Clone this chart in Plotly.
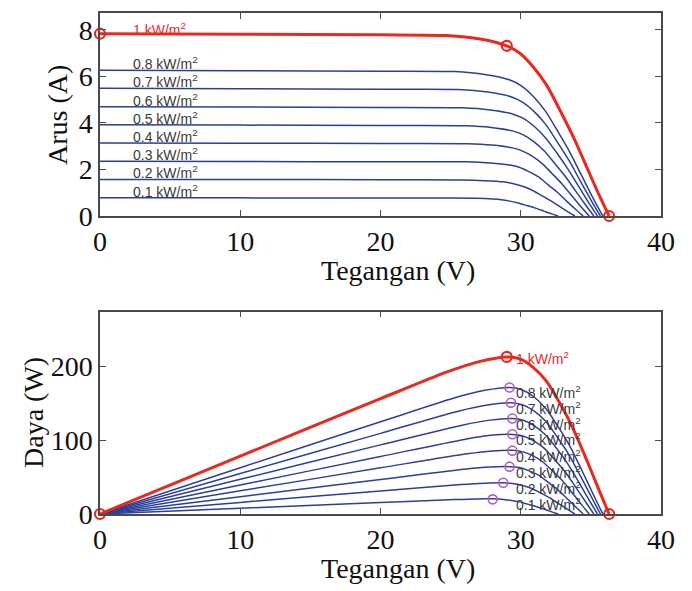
import plotly.graph_objects as go

# ---------------- data ----------------
irradiance_labels = ["0.8", "0.7", "0.6", "0.5", "0.4", "0.3", "0.2", "0.1"]

v_red = [0, 10, 20, 24.7, 27.1, 29.0, 29.94, 30.88, 31.84, 32.79, 33.74, 34.69, 35.64, 36.3]
i_red = [7.84, 7.82, 7.79, 7.76, 7.61, 7.32, 7.0, 6.42, 5.63, 4.56, 3.41, 2.12, 0.83, 0]
red_marker_idx = [0, 5, 13]

v_08 = [0, 10, 20, 25.25, 27.44, 29.18, 30.04, 30.90, 31.77, 32.64, 33.51, 34.38, 35.25, 35.85]
i_08 = [6.27, 6.25, 6.23, 6.21, 6.09, 5.86, 5.60, 5.14, 4.50, 3.64, 2.73, 1.69, 0.66, 0]
v_07 = [0, 10, 20, 25.54, 27.63, 29.30, 30.12, 30.94, 31.78, 32.61, 33.44, 34.27, 35.11, 35.68]
i_07 = [5.49, 5.47, 5.45, 5.44, 5.33, 5.13, 4.90, 4.50, 3.94, 3.18, 2.39, 1.48, 0.58, 0]
v_06 = [0, 10, 20, 25.82, 27.82, 29.40, 30.18, 30.97, 31.76, 32.55, 33.34, 34.13, 34.92, 35.47]
i_06 = [4.70, 4.69, 4.67, 4.65, 4.56, 4.39, 4.20, 3.85, 3.37, 2.73, 2.04, 1.27, 0.50, 0]
v_05 = [0, 10, 20, 25.98, 27.89, 29.40, 30.15, 30.90, 31.66, 32.41, 33.17, 33.93, 34.69, 35.21]
i_05 = [3.92, 3.91, 3.89, 3.88, 3.81, 3.66, 3.50, 3.21, 2.81, 2.27, 1.71, 1.06, 0.42, 0]
v_04 = [0, 10, 20, 26.17, 27.97, 29.40, 30.10, 30.81, 31.53, 32.24, 32.96, 33.67, 34.39, 34.88]
i_04 = [3.14, 3.13, 3.12, 3.11, 3.05, 2.93, 2.80, 2.57, 2.25, 1.82, 1.37, 0.85, 0.33, 0]
v_03 = [0, 10, 20, 26.11, 27.83, 29.20, 29.88, 30.55, 31.24, 31.92, 32.61, 33.29, 33.98, 34.45]
i_03 = [2.35, 2.34, 2.33, 2.33, 2.28, 2.19, 2.10, 1.92, 1.69, 1.36, 1.02, 0.63, 0.25, 0]
v_02 = [0, 10, 20, 25.74, 27.42, 28.75, 29.41, 30.07, 30.74, 31.40, 32.07, 32.73, 33.40, 33.86]
i_02 = [1.57, 1.57, 1.56, 1.55, 1.52, 1.47, 1.40, 1.29, 1.13, 0.91, 0.68, 0.42, 0.17, 0]
v_01 = [0, 10, 20, 25.26, 26.79, 28.01, 28.61, 29.22, 29.82, 30.43, 31.04, 31.65, 32.26, 32.68]
i_01 = [0.78, 0.78, 0.77, 0.77, 0.76, 0.73, 0.70, 0.64, 0.56, 0.45, 0.34, 0.21, 0.08, 0]

mpp_v_blue = [29.2, 29.3, 29.4, 29.4, 29.4, 29.2, 28.75, 28.0]
mpp_p_blue = [171, 150.4, 129, 107.7, 85.6, 64, 42.3, 19.8]

x_ticks = [0, 10, 20, 30, 40]
y1_ticks = [0, 2, 4, 6, 8]
y2_ticks = [0, 100, 200]

blue_v = [v_08, v_07, v_06, v_05, v_04, v_03, v_02, v_01]
blue_i = [i_08, i_07, i_06, i_05, i_04, i_03, i_02, i_01]

# ---------------- style ----------------
RED = "#e8291f"
BLUE = "#2c3f98"
PURPLE = "#b25cc4"
LABEL_GREY = "#3a3a3a"
AX = "#4a4a4a"
W, H = 692, 591
SM = 0.7

fig = go.Figure()

for vs, cs in zip(blue_v, blue_i):
    fig.add_trace(go.Scatter(x=vs, y=cs, mode="lines", line=dict(color=BLUE, width=1.5, shape="spline", smoothing=SM),
                             xaxis="x", yaxis="y", showlegend=False, hoverinfo="skip"))
    ps = [v * c for v, c in zip(vs, cs)]
    fig.add_trace(go.Scatter(x=vs, y=ps, mode="lines", line=dict(color=BLUE, width=1.5, shape="spline", smoothing=SM),
                             xaxis="x2", yaxis="y2", showlegend=False, hoverinfo="skip"))

p_red = [v * c for v, c in zip(v_red, i_red)]
fig.add_trace(go.Scatter(x=v_red, y=i_red, mode="lines", line=dict(color=RED, width=3, shape="spline", smoothing=SM),
                         xaxis="x", yaxis="y", showlegend=False))
fig.add_trace(go.Scatter(x=v_red, y=p_red, mode="lines", line=dict(color=RED, width=3, shape="spline", smoothing=SM),
                         xaxis="x2", yaxis="y2", showlegend=False))

marker_red = dict(symbol="circle-open", size=10, color=RED, line=dict(width=2.2, color=RED))
fig.add_trace(go.Scatter(x=[v_red[k] for k in red_marker_idx], y=[i_red[k] for k in red_marker_idx],
                         mode="markers", marker=marker_red, xaxis="x", yaxis="y", showlegend=False, cliponaxis=False))
fig.add_trace(go.Scatter(x=[v_red[k] for k in red_marker_idx], y=[p_red[k] for k in red_marker_idx],
                         mode="markers", marker=marker_red, xaxis="x2", yaxis="y2", showlegend=False, cliponaxis=False))
fig.add_trace(go.Scatter(x=mpp_v_blue, y=mpp_p_blue, mode="markers",
                         marker=dict(symbol="circle-open", size=9, color=PURPLE, line=dict(width=1.6, color=PURPLE)),
                         xaxis="x2", yaxis="y2", showlegend=False))

# ---------------- labels ----------------
ann = []
lab_font = dict(family="Liberation Sans, Arial", size=14, color=LABEL_GREY)
red_font = dict(family="Liberation Sans, Arial", size=14, color=RED)
ann.append(dict(x=2.2, y=i_red[0], xref="x", yref="y", text="1 kW/m<sup>2</sup>", showarrow=False,
                xanchor="left", yanchor="bottom", yshift=-6, font=red_font))
for lab, cs in zip(irradiance_labels, blue_i):
    ann.append(dict(x=2.2, y=cs[0], xref="x", yref="y", text=lab + " kW/m<sup>2</sup>", showarrow=False,
                    xanchor="left", yanchor="bottom", yshift=-4, font=lab_font))
ann.append(dict(x=29.5, y=p_red[5], xref="x2", yref="y2", text="1 kW/m<sup>2</sup>", showarrow=False,
                xanchor="left", yanchor="middle", yshift=-1, font=red_font))
for lab, p in zip(irradiance_labels, mpp_p_blue):
    ann.append(dict(x=29.5, y=p, xref="x2", yref="y2", text=lab + " kW/m<sup>2</sup>", showarrow=False,
                    xanchor="left", yanchor="middle", yshift=-5, font=lab_font))

title_font = dict(family="Liberation Serif, Times New Roman", size=28, color="#111")
ann.append(dict(x=57 / W, y=1 - 115 / H, xref="paper", yref="paper", text="Arus (A)", textangle=-90,
                showarrow=False, xanchor="center", yanchor="middle", font=title_font))
ann.append(dict(x=398 / W, y=1 - 270 / H, xref="paper", yref="paper", text="Tegangan (V)",
                showarrow=False, xanchor="center", yanchor="middle", font=title_font))
ann.append(dict(x=33 / W, y=1 - 413 / H, xref="paper", yref="paper", text="Daya (W)", textangle=-90,
                showarrow=False, xanchor="center", yanchor="middle", font=title_font))
ann.append(dict(x=398 / W, y=1 - 568 / H, xref="paper", yref="paper", text="Tegangan (V)",
                showarrow=False, xanchor="center", yanchor="middle", font=title_font))

tick_font = dict(family="Liberation Serif, Times New Roman", size=28, color="#111")
axis_common = dict(showline=True, linecolor=AX, linewidth=1.5, mirror="ticks", ticks="inside", ticklen=6,
                   tickcolor=AX, tickwidth=1.3, showgrid=False, zeroline=False, tickfont=tick_font,
                   automargin=False)

xdom = [100 / W, 661 / W]
fig.update_layout(
    template="none",
    width=W, height=H, margin=dict(l=0, r=0, t=0, b=0, pad=0),
    paper_bgcolor="white", plot_bgcolor="white", showlegend=False,
    xaxis=dict(domain=xdom, range=[0, 40], tickvals=x_ticks, anchor="y", **axis_common),
    yaxis=dict(domain=[1 - 216 / H, 1 - 13 / H], range=[0, 8.73], tickvals=y1_ticks, anchor="x", **axis_common),
    xaxis2=dict(domain=xdom, range=[0, 40], tickvals=x_ticks, anchor="y2", **axis_common),
    yaxis2=dict(domain=[1 - 514 / H, 1 - 311.7 / H], range=[0, 273.4], tickvals=y2_ticks, anchor="x2", **axis_common),
    annotations=ann,
)

fig.write_html("out.html")
